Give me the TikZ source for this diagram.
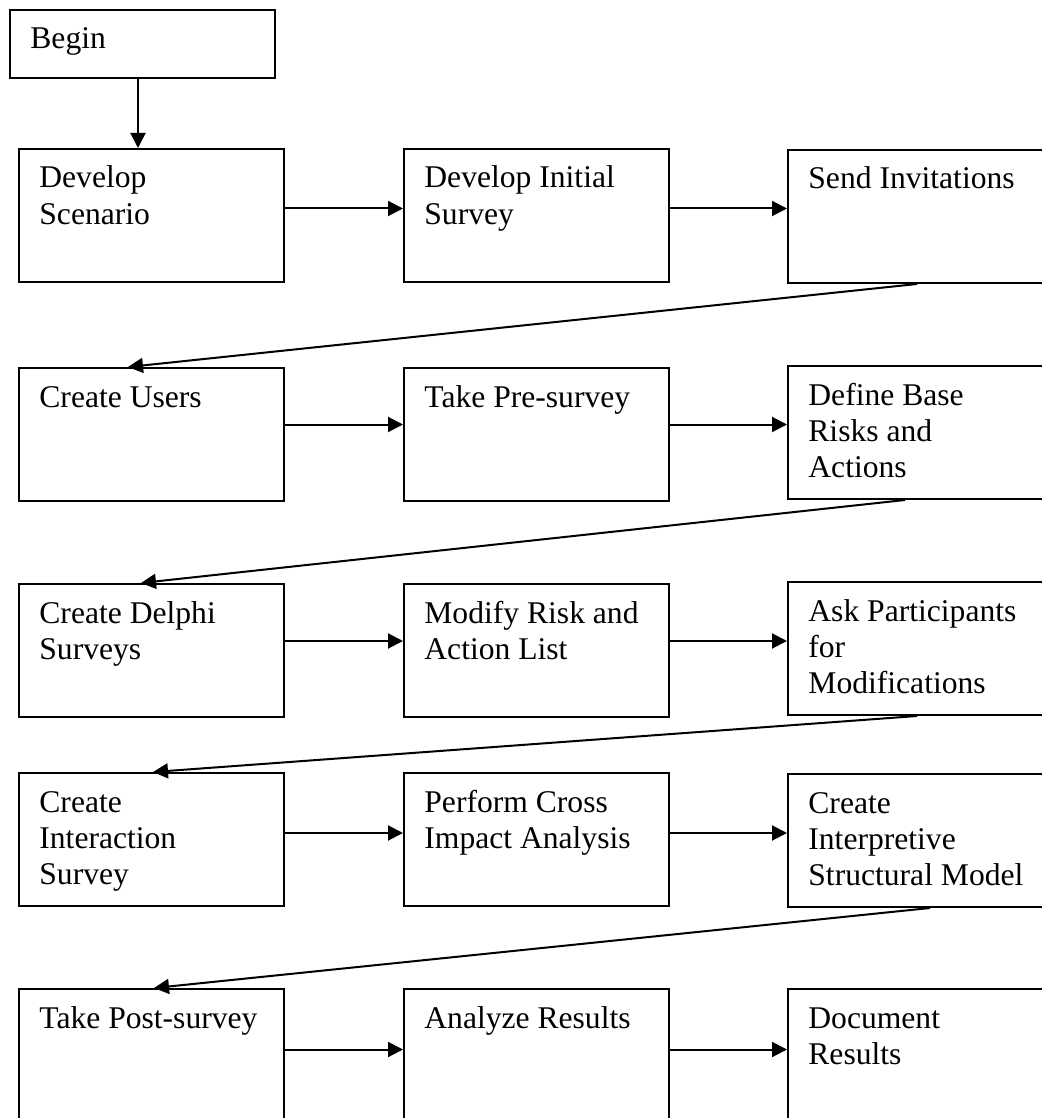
\documentclass[tikz,border=0pt]{standalone}
\usepackage{fontspec}
\setmainfont{Liberation Serif}
\usetikzlibrary{arrows.meta,calc}

% place the text of a step inside its box, first baseline 40 units below the top
\newcommand\steptxt[2]{%
  \node[steptext] (#1-t) at ($(#1.north west)+(21,40)$)
    {\begin{tabular}[t]{@{}l@{}}#2\end{tabular}};}
% horizontal connector between two boxes of one row
\newcommand\hflow[3]{%
  \coordinate (#1-o) at ($(#1.north east)+(0,#3)$);
  \draw[flow] (#1-o) -- (#1-o -| #2.west);}
% slanted connector from the end of one row to the start of the next
\newcommand\dflow[4]{%
  \draw[flow] ($(#1.south west)+(#2,0)$) -- ($(#3.north west)+(#4,0)$);}

\begin{document}
\begin{tikzpicture}[x=0.5pt,y=-0.5pt,
  stepbox/.style={draw, line width=1pt, anchor=north west, inner sep=0pt,
    minimum width=132.5pt, minimum height=66.5pt},
  steptext/.style={anchor=base west, inner sep=0pt,
    font=\fontsize{15.8pt}{18.2pt}\selectfont},
  flow/.style={line width=1pt, -{Triangle[length=7.5pt,width=7.5pt]}},
]
\useasboundingbox (0,0) rectangle (1042,1118);
\clip (0,0) rectangle (1042,1118);

% start box
\node[stepbox, minimum height=34pt] (begin) at (9,9) {};
\steptxt{begin}{Begin}

% row 1
\node[stepbox] (r1c1) at (18,148) {};
\node[stepbox] (r1c2) at (403,148) {};
\node[stepbox] (r1c3) at (787,149) {};
% row 2
\node[stepbox] (r2c1) at (18,367) {};
\node[stepbox] (r2c2) at (403,367) {};
\node[stepbox] (r2c3) at (787,365) {};
% row 3
\node[stepbox] (r3c1) at (18,583) {};
\node[stepbox] (r3c2) at (403,583) {};
\node[stepbox] (r3c3) at (787,581) {};
% row 4
\node[stepbox] (r4c1) at (18,772) {};
\node[stepbox] (r4c2) at (403,772) {};
\node[stepbox] (r4c3) at (787,773) {};
% row 5
\node[stepbox] (r5c1) at (18,988) {};
\node[stepbox] (r5c2) at (403,988) {};
\node[stepbox] (r5c3) at (787,988) {};

\steptxt{r1c1}{Develop\\Scenario}
\steptxt{r1c2}{Develop Initial\\Survey}
\steptxt{r1c3}{Send Invitations}
\steptxt{r2c1}{Create Users}
\steptxt{r2c2}{Take Pre-survey}
\steptxt{r2c3}{Define Base\\Risks and\\Actions}
\steptxt{r3c1}{Create Delphi\\Surveys}
\steptxt{r3c2}{Modify Risk and\\Action List}
\steptxt{r3c3}{Ask Participants\\for\\Modifications}
\steptxt{r4c1}{Create\\Interaction\\Survey}
\steptxt{r4c2}{Perform Cross\\Impact Analysis}
\steptxt{r4c3}{Create\\Interpretive\\Structural Model}
\steptxt{r5c1}{Take Post-survey}
\steptxt{r5c2}{Analyze Results}
\steptxt{r5c3}{Document\\Results}

% connectors
\coordinate (begin-o) at ($(begin.south west)+(129,0)$);
\draw[flow] (begin-o) -- (begin-o |- r1c1.north);

\hflow{r1c1}{r1c2}{60.5}
\hflow{r1c2}{r1c3}{60.5}
\hflow{r2c1}{r2c2}{57.5}
\hflow{r2c2}{r2c3}{57.5}
\hflow{r3c1}{r3c2}{58}
\hflow{r3c2}{r3c3}{58}
\hflow{r4c1}{r4c2}{61}
\hflow{r4c2}{r4c3}{61}
\hflow{r5c1}{r5c2}{61.5}
\hflow{r5c2}{r5c3}{61.5}

\dflow{r1c3}{130}{r2c1}{110}
\dflow{r2c3}{118}{r3c1}{123}
\dflow{r3c3}{130}{r4c1}{135}
\dflow{r4c3}{143}{r5c1}{136}
\end{tikzpicture}
\end{document}
